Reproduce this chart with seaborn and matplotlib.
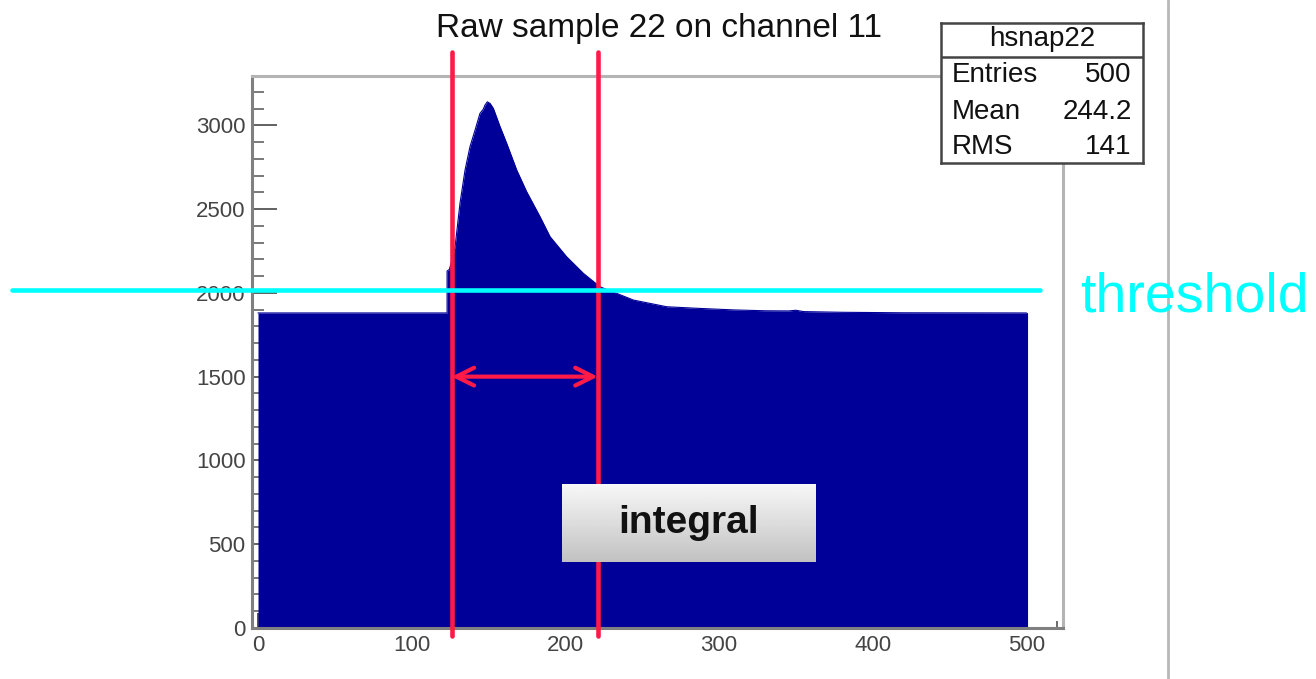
import numpy as np
import matplotlib
matplotlib.use("Agg")
import matplotlib.pyplot as plt
import seaborn as sns

# --------------------------
# data
# --------------------------
# outline of the raw sample histogram (sample index, ADC counts)
sample_x = [0, 123, 123, 124.5, 126, 128.2, 131.4, 134.7, 137.9, 141.2, 144.4,
            146.5, 147.7, 149.2, 151, 153.1, 157.5, 161.8, 168.3, 174.8, 183.5,
            190, 200.8, 211.7, 222.5, 233.3, 244.2, 265.9, 287.5, 310, 330,
            345, 350, 355, 380, 420, 500]
sample_y = [1880, 1880, 2130, 2140, 2190, 2275, 2534, 2733, 2872, 2971, 3071,
            3095, 3121, 3140, 3130, 3101, 2991, 2892, 2733, 2603, 2454,
            2335, 2215, 2116, 2036, 1997, 1957, 1917, 1907, 1898, 1893,
            1892, 1896, 1888, 1884, 1881, 1880]

threshold = 2017
window = [126, 221]          # integration window (red lines)
arrow_y = 1500

x_ticks = [0, 100, 200, 300, 400, 500]
y_ticks = [0, 500, 1000, 1500, 2000, 2500, 3000]

stats_title = "hsnap22"
stats_names = ["Entries", "Mean", "RMS"]
stats_values = ["500", "244.2", "141"]

NAVY = "#000099"
RED = "#ff1a47"
CYAN = "#00ffff"

sns.set_style("ticks")
plt.rcParams["font.family"] = ["Liberation Sans", "DejaVu Sans"]

W, H = 1316, 679
fig = plt.figure(figsize=(W / 100, H / 100), dpi=100)
ax = fig.add_axes([251.7 / W, 1 - 628 / H, (1063 - 251.7) / W, (628 - 76) / H])

# histogram body
sns.lineplot(x=sample_x, y=sample_y, ax=ax, color=NAVY, lw=0.8,
             sort=False, estimator=None, zorder=2)
ax.fill_between(sample_x, 0, sample_y, color=NAVY, lw=0, zorder=2)
ax.plot([500, 500], [0, sample_y[-1]], color=NAVY, lw=0.8, zorder=2)

ax.set_xlim(-4.1, 523.7)
ax.set_ylim(0, 3294)
ax.set_xticks(x_ticks)
ax.set_yticks(y_ticks)
ax.set_xticks(np.arange(0, 521, 20), minor=True)
ax.set_yticks(np.arange(0, 3294, 100), minor=True)
ax.set_xlabel("")
ax.set_ylabel("")

ax.tick_params(axis="x", which="major", direction="in", length=10.5, width=1.3,
               color="#444444", labelsize=16, labelcolor="#444444", pad=5)
ax.tick_params(axis="x", which="minor", direction="in", length=5, width=1.1, color="#444444")
ax.tick_params(axis="y", which="major", direction="in", length=18, width=1.3,
               color="#555555", labelsize=16, labelcolor="#444444", pad=4.5)
ax.tick_params(axis="y", which="minor", direction="in", length=8.5, width=1.1, color="#555555")

for side in ["left", "bottom"]:
    ax.spines[side].set_color("#808080")
    ax.spines[side].set_linewidth(2.2)
for side in ["top", "right"]:
    ax.spines[side].set_color("#b4b4b4")
    ax.spines[side].set_linewidth(2.2)

# integration window lines and arrow
for wx in window:
    ax.plot([wx, wx], [-48, 3437], color=RED, lw=3.3, clip_on=False, zorder=5)
ax.annotate("", xy=(window[0], arrow_y), xytext=(window[1], arrow_y),
            arrowprops=dict(arrowstyle="<->", color=RED, lw=3, mutation_scale=32,
                            shrinkA=0, shrinkB=0), zorder=6)

# threshold line
ax.plot([-160, 508.8], [threshold, threshold], color=CYAN, lw=3.3,
        clip_on=False, zorder=7)

# title and threshold label
fig.text(658.5 / W, 1 - 28 / H, "Raw sample 22 on channel 11", ha="center",
         va="center", fontsize=24, color="#111111")
fig.text(1080 / W, 1 - 312 / H, "threshold", ha="left", va="baseline",
         fontsize=40, color=CYAN)

# right separator line
fig.add_artist(plt.Line2D([1168 / W, 1168 / W], [0, 1], color="#b8b8b8", lw=2))

# stats box
sb = fig.add_axes([941 / W, 1 - 163 / H, 202 / W, 140 / H], zorder=10)
sb.set_facecolor("white")
sb.set_xticks([])
sb.set_yticks([])
for s in sb.spines.values():
    s.set_color("#444444")
    s.set_linewidth(1.8)
sb.set_xlim(0, 1)
sb.set_ylim(0, 1)
sb.axhline(0.759, color="#444444", lw=1.8)
sb.text(0.5, 0.885, stats_title, ha="center", va="center", fontsize=20, color="#111111")
for i, (nm, val) in enumerate(zip(stats_names, stats_values)):
    yy = [0.629, 0.366, 0.116][i]
    sb.text(0.053, yy, nm, ha="left", va="center", fontsize=20, color="#111111")
    sb.text(0.944, yy, val, ha="right", va="center", fontsize=20, color="#111111")

# "integral" label box with grey gradient
ib = fig.add_axes([562 / W, 1 - 561.7 / H, 254 / W, 77.7 / H], zorder=12)
grad = np.linspace(0.97, 0.76, 64)[:, None]
ib.imshow(grad, cmap="gray", vmin=0, vmax=1, aspect="auto", extent=[0, 1, 0, 1])
ib.set_axis_off()
ib.text(0.5, 0.5, "integral", ha="center", va="center", fontsize=28,
        fontweight="bold", color="#111111")

fig.savefig("out.png", dpi=100)
